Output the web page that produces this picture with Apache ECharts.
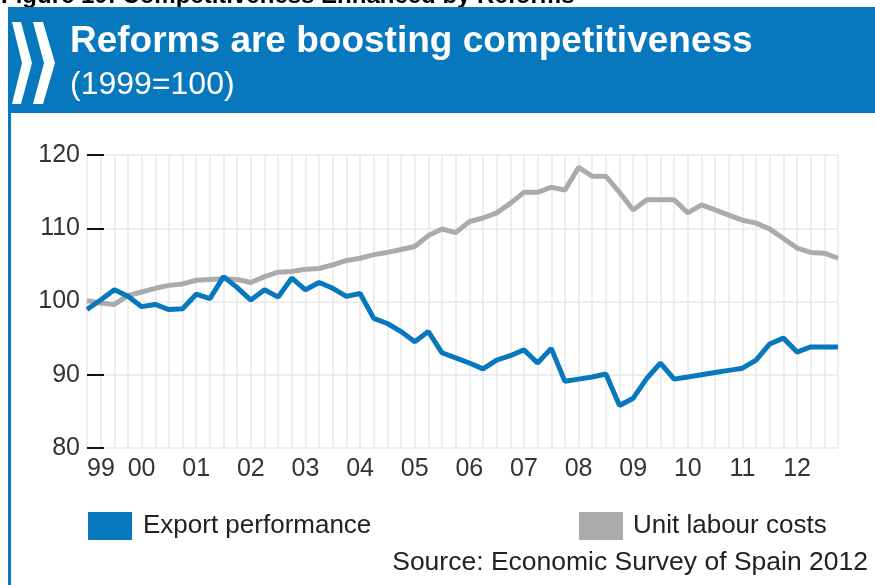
<!DOCTYPE html>
<html>
<head>
<meta charset="utf-8">
<script src="https://cdn.jsdelivr.net/npm/echarts@6/dist/echarts.min.js"></script>
<style>
html,body{margin:0;padding:0;background:#fff;}
#chart{width:875px;height:585px;}
</style>
</head>
<body>
<div id="chart"></div>
<script>
const quarters = [
  '1999Q1','1999Q2','1999Q3','1999Q4','2000Q1','2000Q2','2000Q3','2000Q4',
  '2001Q1','2001Q2','2001Q3','2001Q4','2002Q1','2002Q2','2002Q3','2002Q4',
  '2003Q1','2003Q2','2003Q3','2003Q4','2004Q1','2004Q2','2004Q3','2004Q4',
  '2005Q1','2005Q2','2005Q3','2005Q4','2006Q1','2006Q2','2006Q3','2006Q4',
  '2007Q1','2007Q2','2007Q3','2007Q4','2008Q1','2008Q2','2008Q3','2008Q4',
  '2009Q1','2009Q2','2009Q3','2009Q4','2010Q1','2010Q2','2010Q3','2010Q4',
  '2011Q1','2011Q2','2011Q3','2011Q4','2012Q1','2012Q2','2012Q3','2012Q4'
];
const yearLabels = ['99','00','01','02','03','04','05','06','07','08','09','10','11','12'];

const exportPerformance = [
  98.9,100.2,101.6,100.7, 99.3, 99.6, 98.9, 99.0,
  101.0,100.4,103.4,101.9,100.2,101.6,100.6,103.2,
  101.6,102.6,101.8,100.7,101.1, 97.7, 97.0, 95.9,
  94.5, 95.9, 93.0, 92.3, 91.6, 90.8, 92.0, 92.6,
  93.4, 91.6, 93.6, 89.1, 89.4, 89.7, 90.1, 85.8,
  86.8, 89.5, 91.6, 89.4, 89.7, 90.0, 90.3, 90.6,
  90.9, 92.0, 94.2, 95.0, 93.1, 93.8, 93.8, 93.8
];
const unitLabourCosts = [
  100.1, 99.8, 99.6,100.8,101.3,101.8,102.2,102.4,
  102.9,103.0,103.1,103.0,102.6,103.4,104.0,104.1,
  104.4,104.5,105.0,105.6,105.9,106.4,106.7,107.1,
  107.5,109.0,109.9,109.4,110.9,111.4,112.1,113.4,
  114.9,114.9,115.6,115.2,118.3,117.1,117.1,114.9,
  112.5,113.9,113.9,113.9,112.1,113.2,112.5,111.8,
  111.1,110.7,109.9,108.6,107.3,106.7,106.6,105.9
];

const BLUE = '#0878BE';
const GRAY = '#ABABAB';
const FONT = "'Liberation Sans', Arial, sans-serif";

const chart = echarts.init(document.getElementById('chart'), null, {renderer: 'canvas'});
chart.setOption({
  backgroundColor: '#ffffff',
  animation: false,
  textStyle: {fontFamily: FONT},
  grid: {left: 87, right: 37, top: 155, bottom: 137, containLabel: false},
  xAxis: {
    type: 'category',
    data: quarters,
    boundaryGap: false,
    axisLine: {show: false},
    axisTick: {show: false},
    axisLabel: {
      interval: function (i) { return i % 4 === 0; },
      formatter: function (v, i) { return yearLabels[Math.floor(i / 4)]; },
      fontSize: 25, color: '#333', fontFamily: FONT, margin: 9,
      alignMinLabel: 'left'
    },
    splitLine: {show: true, interval: 0, lineStyle: {color: '#e8e8e8', width: 1.5}}
  },
  yAxis: {
    type: 'value',
    min: 80, max: 120, interval: 10,
    axisLine: {show: false},
    axisTick: {show: true, inside: true, length: 17, lineStyle: {color: '#111', width: 2}},
    axisLabel: {fontSize: 25, color: '#333', fontFamily: FONT, margin: 7},
    splitLine: {show: true, lineStyle: {color: '#e8e8e8', width: 1.5}}
  },
  legend: [
    {
      data: ['Export performance'], left: 88, top: 512, padding: 0,
      icon: 'rect', itemWidth: 44, itemHeight: 28,
      textStyle: {fontSize: 26, color: '#222', fontFamily: FONT, padding: [0, 0, 0, 6]}
    },
    {
      data: ['Unit labour costs'], left: 579, top: 512, padding: 0,
      icon: 'rect', itemWidth: 44, itemHeight: 28,
      textStyle: {fontSize: 26, color: '#222', fontFamily: FONT, padding: [0, 0, 0, 5]}
    }
  ],
  series: [
    {
      name: 'Export performance', type: 'line', data: exportPerformance,
      showSymbol: false, symbol: 'none',
      lineStyle: {color: BLUE, width: 5}, itemStyle: {color: BLUE}, z: 3
    },
    {
      name: 'Unit labour costs', type: 'line', data: unitLabourCosts,
      showSymbol: false, symbol: 'none',
      lineStyle: {color: GRAY, width: 5}, itemStyle: {color: GRAY}, z: 2
    }
  ],
  graphic: [
    {type: 'text', x: 1, y: -4, z: 1,
      style: {text: 'Figure 10: Competitiveness Enhanced by Reforms', fill: '#000',
        font: "bold 24px " + FONT, verticalAlign: 'middle', align: 'left'}},
    {type: 'rect', shape: {x: 8, y: 7, width: 867, height: 106}, style: {fill: BLUE}, z: 5},
    {type: 'rect', shape: {x: 8, y: 7, width: 3, height: 578}, style: {fill: BLUE}, z: 5},
    {type: 'polygon', shape: {points: [[12,22],[21,22],[32,63],[21,104],[12,104],[22,63]]}, style: {fill: '#ffffff'}, z: 6},
    {type: 'polygon', shape: {points: [[33,22],[43,22],[55,63],[43,104],[33,104],[44,63]]}, style: {fill: '#ffffff'}, z: 6},
    {type: 'text', x: 70, y: 42, z: 6,
      style: {text: 'Reforms are boosting competitiveness', fill: '#ffffff',
        font: "bold 37px " + FONT, verticalAlign: 'middle', align: 'left'}},
    {type: 'text', x: 70, y: 85, z: 6,
      style: {text: '(1999=100)', fill: '#ffffff',
        font: "32px " + FONT, verticalAlign: 'middle', align: 'left'}},
    {type: 'text', x: 868, y: 563, z: 6,
      style: {text: 'Source: Economic Survey of Spain 2012', fill: '#222',
        font: "26.5px " + FONT, verticalAlign: 'middle', align: 'right'}}
  ]
});
</script>
</body>
</html>
